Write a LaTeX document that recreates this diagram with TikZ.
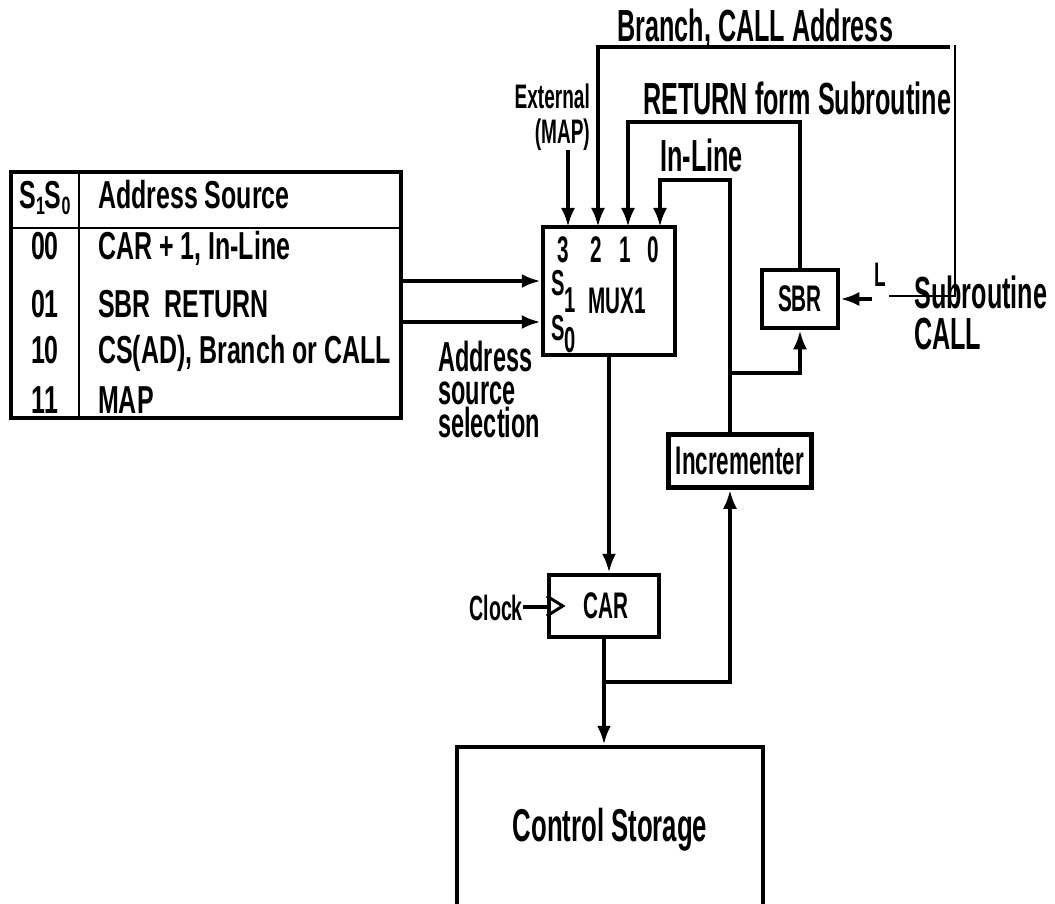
\documentclass[tikz,border=0pt]{standalone}
\usepackage{fontspec}
\setmainfont{Liberation Sans}[FakeStretch=0.56]
\newfontfamily\tabfont{Liberation Sans}[FakeStretch=0.64]
\usepackage{tikz}
\usetikzlibrary{arrows.meta}
\newcommand{\lblsz}[1]{\fontsize{#1}{#1}\selectfont}
\tikzset{
  wire/.style={line width=4pt},
  thinwire/.style={line width=1.8pt},
  arr/.style={wire, -{Latex[length=19pt,width=14pt]}},
  blk/.style={draw, line width=4.5pt, inner sep=0pt, font=\bfseries\lblsz{37}},
  lbl/.style={inner sep=0pt, font=\bfseries\lblsz{45}},
  tabtxt/.style={inner sep=0pt, anchor=base west, font=\tabfont\bfseries\lblsz{39}}
}

\begin{document}
\begin{tikzpicture}[x=1pt, y=-1pt]
  \useasboundingbox (0,0) rectangle (1055,904);

  \node[draw, line width=4.5pt, inner sep=0pt, minimum width=390pt, minimum height=246pt] (tab) at (206,295) {};
  \coordinate (hdr) at (79,228);
  \draw[thinwire] (tab.west |- hdr) -- (tab.east |- hdr);
  \draw[thinwire] (tab.north -| hdr) -- (tab.south -| hdr);
  \node[tabtxt, anchor=base] (hS) at (45,209) {S\raisebox{-6pt}{\lblsz{25}1}S\raisebox{-6pt}{\lblsz{25}0}};
  \node[tabtxt] (hA) at (98,209) {Address Source};
  \foreach \code/\src/\yy [count=\i] in {00/{CAR + 1, In-Line}/260, 01/{SBR\ \ RETURN}/317, 10/{CS(AD), Branch or CALL}/363, 11/MAP/413} {
    \node[tabtxt, anchor=base] (code\i) at (45,\yy) {\code};
    \node[tabtxt] (src\i) at (98,\yy) {\src};
  }

  \node[blk, minimum width=132pt, minimum height=128pt] (mux) at (609,291) {};
  \foreach \n/\xx in {3/563,2/596,1/625,0/653}
    \node[lbl, font=\bfseries\lblsz{37}, anchor=base] (p\n) at (\xx,262) {\n};
  \foreach \n/\xx in {3/568,2/598,1/628,0/660}
    \coordinate (in\n) at (\xx,227);
  \node[lbl, font=\bfseries\lblsz{36}, anchor=base west] (s1) at (551,295) {S\raisebox{-17pt}{1}};
  \node[lbl, font=\bfseries\lblsz{36}, anchor=base west] (s0) at (551,340) {S\raisebox{-12pt}{0}};
  \node[lbl, font=\bfseries\lblsz{37}, anchor=base] (muxname) at (617,313) {MUX1};

  \node[blk, minimum width=76pt, minimum height=58pt] (sbr) at (800,299) {SBR};
  \node[blk, minimum width=143pt, minimum height=53pt, font=\bfseries\lblsz{40}] (inc) at (740,461) {Incrementer};
  \node[blk, minimum width=110pt, minimum height=62pt] (car) at (604,606) {\hspace*{4pt}CAR};
  \node[blk, minimum width=306pt, minimum height=166pt, font=\bfseries\lblsz{46}] (cs) at (610,830) {Control Storage};

  \node[lbl, anchor=base west] (brlbl) at (617,42) {Branch, CALL Address};
  \node[lbl, anchor=base west] (retlbl) at (643,115) {RETURN form Subroutine};
  \node[lbl, anchor=base west] (inllbl) at (660,172) {In-Line};
  \node[lbl, align=right, anchor=north east, font=\bfseries\fontsize{34}{35}\selectfont] (extlbl) at (590,84) {External\\(MAP)};
  \node[lbl, align=left, anchor=north west, font=\bfseries\fontsize{45}{41}\selectfont] (sublbl) at (914,276) {Subroutine\\CALL};
  \node[lbl, anchor=base, font=\bfseries\lblsz{34}] (llbl) at (880,287) {L};
  \node[lbl, align=left, anchor=north west, font=\bfseries\fontsize{42}{33}\selectfont] (asslbl) at (438,341) {Address\\source\\selection};
  \node[lbl, anchor=base east, font=\bfseries\lblsz{35}] (clk) at (523,620) {Clock};

  \coordinate (extB) at (568,150);
  \draw[arr] (extB) -- (in3);
  \coordinate (brR) at (950,47);
  \draw[arr] (brR) -| (in2);
  \coordinate (tkT) at (955,45);
  \coordinate (tkL) at (889,296);
  \draw[thinwire] (tkT) |- (tkL);
  \coordinate (retC) at (628,122);
  \draw[arr] (sbr.north) |- (retC) -- (in1);
  \coordinate (inlC) at (660,180);
  \draw[arr] ([xshift=-10pt]inc.north) |- (inlC) -- (in0);
  \coordinate (jS) at (730,373);
  \draw[arr] (jS) -| (sbr.south);
  \coordinate (lIn) at (872,299);
  \draw[arr] (lIn) -- (sbr.east);
  \coordinate (s1L) at ([yshift=14pt]tab.east);
  \coordinate (s0L) at ([yshift=-27pt]tab.east);
  \draw[arr] (s1L) -- (s1L -| mux.west);
  \draw[arr] (s0L) -- (s0L -| mux.west);
  \draw[arr] (mux.south) -- (mux.south |- car.north);
  \draw[wire] (clk.east) -- (clk.east -| car.west);
  \draw[line width=3pt] ([yshift=10pt]car.west) -- ([xshift=16pt]car.west) -- ([yshift=-10pt]car.west);
  \draw[arr] (car.south) -- (car.south |- cs.north);
  \coordinate (jC) at (604,682);
  \draw[arr] (jC) -| ([xshift=-10pt]inc.south);
\end{tikzpicture}
\end{document}
